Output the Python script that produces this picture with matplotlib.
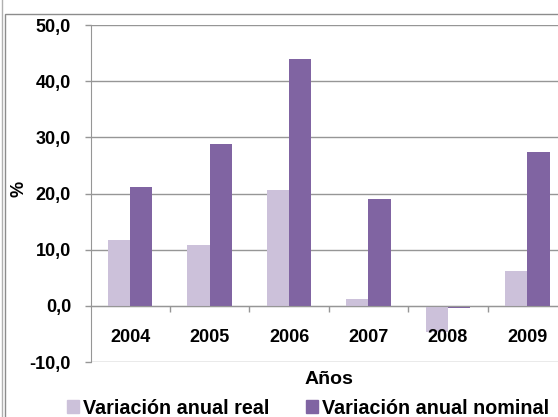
import numpy as np
import matplotlib.pyplot as plt
from matplotlib.patches import Rectangle, Patch
from matplotlib.lines import Line2D

years = ['2004', '2005', '2006', '2007', '2008', '2009']
real = [11.7, 10.9, 20.6, 1.2, -4.6, 6.2]
nominal = [21.2, 28.8, 43.9, 19.1, -0.4, 27.3]
y_ticks = [-10, 0, 10, 20, 30, 40, 50]
y_labels = ['-10,0', '0,0', '10,0', '20,0', '30,0', '40,0', '50,0']

c_real = '#CCC1DA'
c_nom = '#8064A2'
grid_c = '#969696'

plt.rcParams['font.family'] = ['Liberation Sans', 'DejaVu Sans']
plt.rcParams['font.weight'] = 'bold'

W, H = 558, 417
fig = plt.figure(figsize=(W / 100, H / 100), dpi=100)

# chart area border (partly outside the picture)
fig.add_artist(Rectangle((4.5 / W, -0.1), 1.2, (H - 14.5) / H + 0.1,
                         transform=fig.transFigure, fill=False,
                         edgecolor='#8c8c8c', linewidth=1.0))
fig.add_artist(Line2D([1.5 / W, 1.5 / W], [0, 1], transform=fig.transFigure,
                      color='#b0b0b0', linewidth=1.0))

ax = fig.add_axes([90.5 / W, (H - 362) / H, (567 - 90.5) / W, (362 - 25) / H])

x = np.arange(len(years))
bw = 0.28
ax.bar(x - bw / 2, real, bw, color=c_real, zorder=3)
ax.bar(x + bw / 2, nominal, bw, color=c_nom, zorder=3)

ax.set_xlim(-0.5, len(years) - 0.5)
ax.set_ylim(-10, 50)
ax.set_yticks(y_ticks)
ax.set_yticklabels(y_labels, fontsize=13, fontweight='bold')
ax.yaxis.grid(True, color=grid_c, linewidth=1.0, zorder=0)
ax.set_axisbelow(True)
ax.tick_params(axis='y', length=4, width=1, color=grid_c, pad=10)

for s in ['top', 'right']:
    ax.spines[s].set_visible(False)
ax.spines['left'].set_color(grid_c)
ax.spines['bottom'].set_position(('data', 0))
ax.spines['bottom'].set_color(grid_c)
ax.spines['bottom'].set_zorder(4)
ax.set_xticks(np.arange(0.5, len(years) - 0.5, 1.0))
ax.set_xticklabels([])
ax.tick_params(axis='x', length=4, width=1, color=grid_c, direction='out')

for xi, lab in zip(x, years):
    ax.text(xi, -5.6, lab, ha='center', va='center', fontsize=13, fontweight='bold')

fig.text(19 / W, 1 - 189 / H, '%', rotation=90, ha='center', va='center',
         fontsize=13, fontweight='bold')
fig.text((90.5 + 567) / 2 / W, 1 - 379 / H, 'Años', ha='center', va='center',
         fontsize=14, fontweight='bold')

handles = [Patch(color=c_real), Patch(color=c_nom)]
fig.legend(handles, ['Variación anual real', 'Variación anual nominal'],
           loc='center', bbox_to_anchor=(308 / W, 1 - 408 / H), ncol=2,
           frameon=False, prop={'size': 14.2, 'weight': 'bold'},
           handlelength=0.6, handleheight=0.6, handletextpad=0.2,
           columnspacing=1.9, borderpad=0)

fig.savefig('out.png', dpi=100)
